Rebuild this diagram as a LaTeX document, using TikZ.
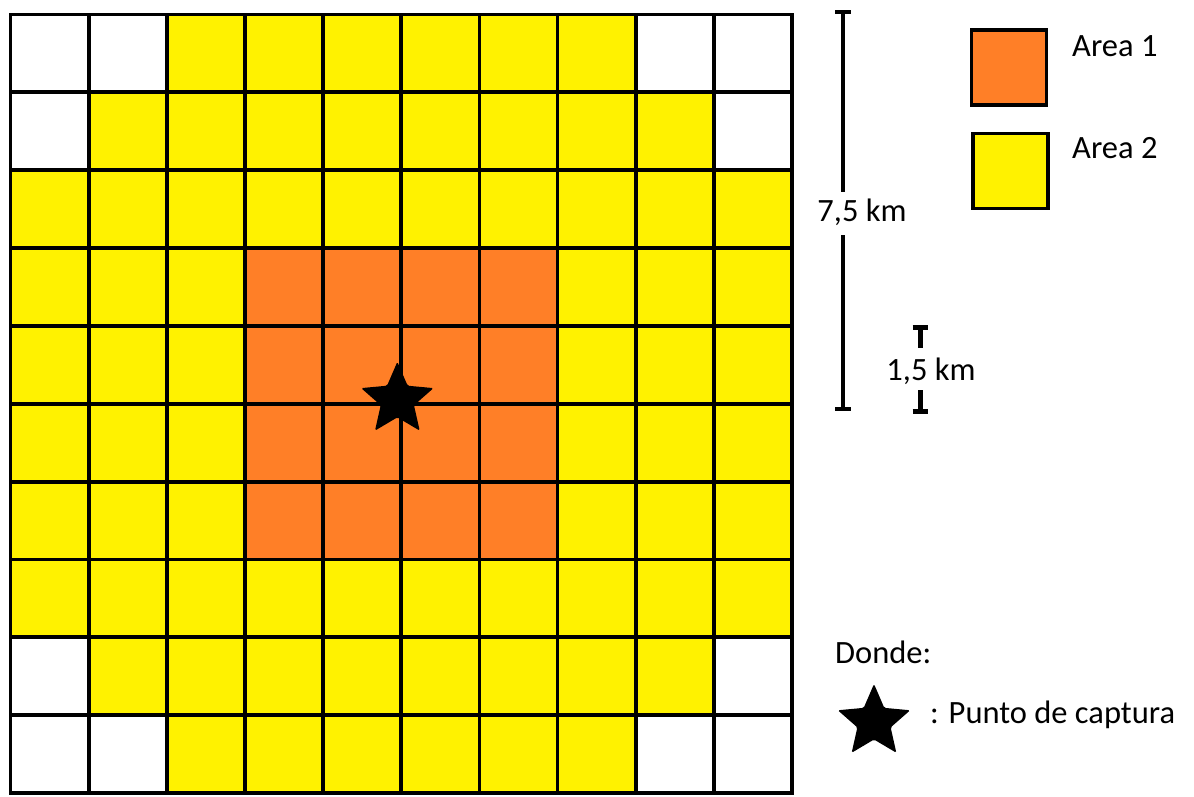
\documentclass[tikz,border=0pt]{standalone}
\usepackage{fontspec}
\setmainfont{Carlito}
\usetikzlibrary{shapes.geometric}
\definecolor{ora}{RGB}{255,127,39}
\definecolor{yel}{RGB}{255,242,0}
\begin{document}
\begin{tikzpicture}[x=1pt,y=-1pt,
  gridline/.style={line width=3.8pt, line cap=rect},
  lbl/.style={font=\fontsize{32.5}{38}\selectfont, inner sep=0pt},
  legbox/.style={draw, line width=3.6pt, minimum size=75pt, inner sep=0pt},
  starmark/.style={star, star points=5, star point ratio=0.46, minimum size=35pt, inner sep=0pt, fill=black, rounded corners=1.5pt, rotate=180},
  bar/.style={line width=4pt},
  thickbar/.style={line width=5pt}]
\useasboundingbox (0,0) rectangle (1194,796);
% grid cells
\begin{scope}[shift={(10.5,14.5)}, x=78.15pt, y=-77.85pt]
  \fill[yel] (0,0) rectangle (10,10);
  \fill[ora] (3,3) rectangle (7,7);
  \fill[white] (0,0) rectangle (2,1) (0,1) rectangle (1,2)
               (8,0) rectangle (10,1) (9,1) rectangle (10,2)
               (0,9) rectangle (2,10) (0,8) rectangle (1,9)
               (8,9) rectangle (10,10) (9,8) rectangle (10,9);
  \foreach \i in {0,...,10} {
    \draw[gridline] (\i,0) -- (\i,10);
    \draw[gridline] (0,\i) -- (10,\i);
  }
  \node[starmark] (capt) at (4.95,4.95) {};
\end{scope}
% legend boxes
\node[legbox, fill=ora] (a1) at (1009,67.5) {};
\node[legbox, fill=yel] (a2) at (1010.5,171) {};
\node[lbl, anchor=base west] (t1) at (1072,56) {Area 1};
\node[lbl, anchor=base west] (t2) at (1072,158) {Area 2};
% 7,5 km scale bar
\node[lbl, anchor=base] (s75) at (862,221) {7,5 km};
\coordinate (p1) at (843,12);
\coordinate (p2) at (843,409);
\draw[bar] (p1) -- (843,192);
\draw[bar] (843,235) -- (p2);
\draw[bar] (835,12) -- (851,12);
\draw[bar] (835,409) -- (851,409);
% 1,5 km scale bar
\node[lbl, anchor=base] (s15) at (931,380) {1,5 km};
\coordinate (q1) at (920,327);
\coordinate (q2) at (920,411);
\draw[thickbar] (912.5,327) -- (927.5,327);
\draw[thickbar] (q1) -- (920,348);
\draw[thickbar] (920,390) -- (q2);
\draw[thickbar] (912.5,411) -- (927.5,411);
% explanation
\node[lbl, anchor=base west] (donde) at (835,663) {Donde:};
\node[starmark] (lstar) at (874,722) {};
\node[lbl, anchor=base west] (punto) at (930,723) {: Punto de captura};
\end{tikzpicture}
\end{document}
